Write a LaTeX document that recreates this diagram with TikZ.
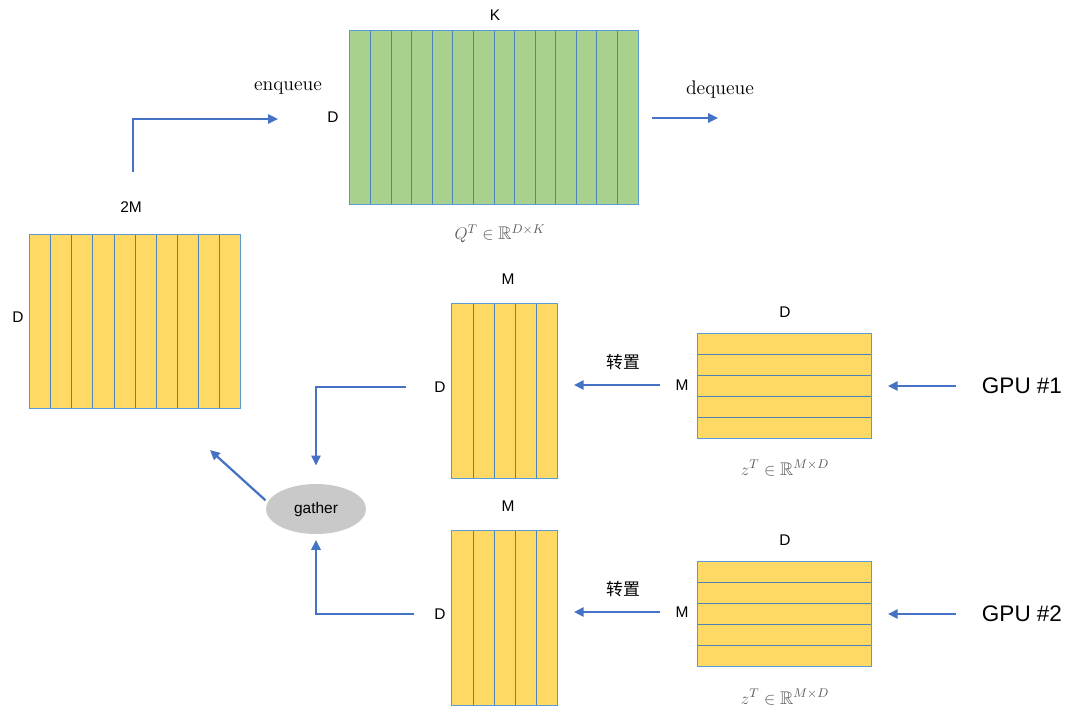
\documentclass[tikz,border=0pt]{standalone}
\usepackage{amssymb}
\usepackage{fontspec}
\setsansfont{Liberation Sans}
\newfontfamily\cjk{Noto Sans CJK SC}
\usetikzlibrary{arrows.meta,calc,positioning,shapes.geometric}
\definecolor{cellyellow}{HTML}{FFD966}
\definecolor{cellgreen}{HTML}{A9D18E}
\definecolor{cellline}{HTML}{5B9BD5}
\definecolor{arrowblue}{HTML}{4472C4}
\definecolor{mathgray}{HTML}{5A5A5A}
\tikzset{
    block/.style={
	rectangle,
	draw=cellline,
	line width=0.7pt,
	inner sep=0pt,
	outer sep=0pt
    },
    cell/.style={
	draw=cellline!85!black,
	line width=0.7pt
    },
    lbl/.style={
	font=\sffamily\fontsize{11}{13}\selectfont,
	inner sep=1pt
    },
    gpu/.style={
	font=\sffamily\fontsize{16}{18}\selectfont,
	inner sep=1pt
    },
    op/.style={
	font=\fontsize{14}{16}\selectfont,
	inner sep=1pt
    },
    dimlbl/.style={
	font=\fontsize{13}{15}\selectfont,
	text=mathgray,
	inner sep=1pt
    },
    flow/.style={
	draw=arrowblue,
	line width=1.6pt,
	-{Triangle[length=7pt,width=6.5pt]}
    },
}
\newcommand\splitcols[2]{%
    \foreach \i in {1,...,#2}{%
	\pgfmathsetmacro\f{\i/(#2+1)}
	\draw[cell] ($(#1.north west)!\f!(#1.north east)$)
	    -- ($(#1.south west)!\f!(#1.south east)$);}}
\newcommand\splitrows[2]{%
    \foreach \i in {1,...,#2}{%
	\pgfmathsetmacro\f{\i/(#2+1)}
	\draw[cell] ($(#1.north west)!\f!(#1.south west)$)
	    -- ($(#1.north east)!\f!(#1.south east)$);}}

\begin{document}
\begin{tikzpicture}[x=0.025cm,y=-0.025cm]
    \useasboundingbox (0,0) rectangle (1080,719);

    % queue
    \node[block, fill=cellgreen, minimum width=7.2cm, minimum height=4.325cm]
	(QUEUE) at (494,117.5) {};
    \splitcols{QUEUE}{13}
    \node[lbl] (QK) at (495,15) {K};
    \node[lbl] (QD) at (333,117) {D};
    \node[dimlbl] (QT) at (500,234) {$Q^T \in \mathbb{R}^{D\times K}$};
    \node[op] (ENQ) at (288,88) {enqueue};
    \node[op] (DEQ) at (720,90) {dequeue};

    % gathered keys
    \node[block, fill=cellyellow, minimum width=5.25cm, minimum height=4.325cm]
	(BIG) at (135,321.5) {};
    \splitcols{BIG}{9}
    \node[lbl] (BIGM) at (131,207) {2M};
    \node[lbl] (BIGD) at (18,317) {D};

    \node[ellipse, fill=black!21, minimum width=2.5cm, minimum height=1.25cm,
	font=\sffamily\fontsize{11}{13}\selectfont] (GATHER) at (316,509) {gather};

    % GPU #1
    \node[block, fill=cellyellow, minimum width=2.625cm, minimum height=4.35cm]
	(MA) at (504.5,391) {};
    \splitcols{MA}{4}
    \node[lbl] (MAM) at (508,279) {M};
    \node[lbl] (MAD) at (440,387) {D};
    \node[block, fill=cellyellow, minimum width=4.325cm, minimum height=2.625cm]
	(ZA) at (784.5,385.5) {};
    \splitrows{ZA}{4}
    \node[lbl] (ZAD) at (785,312) {D};
    \node[lbl] (ZAM) at (682,385) {M};
    \node[dimlbl] (ZAT) at (785,468) {$z^T \in \mathbb{R}^{M\times D}$};
    \node[font=\cjk\fontsize{12}{14}\selectfont] (TA) at (623,362) {转置};
    \node[gpu] (GPUA) at (1022,386) {GPU \#1};

    % GPU #2
    \node[block, fill=cellyellow, minimum width=2.625cm, minimum height=4.35cm]
	(MB) at (504.5,618) {};
    \splitcols{MB}{4}
    \node[lbl] (MBM) at (508,506) {M};
    \node[lbl] (MBD) at (440,614) {D};
    \node[block, fill=cellyellow, minimum width=4.325cm, minimum height=2.625cm]
	(ZB) at (784.5,613.5) {};
    \splitrows{ZB}{4}
    \node[lbl] (ZBD) at (785,540) {D};
    \node[lbl] (ZBM) at (682,612) {M};
    \node[dimlbl] (ZBT) at (785,697) {$z^T \in \mathbb{R}^{M\times D}$};
    \node[font=\cjk\fontsize{12}{14}\selectfont] (TB) at (623,589) {转置};
    \node[gpu] (GPUB) at (1022,614) {GPU \#2};

    \coordinate (ENQS) at (133,172);
    \coordinate (ENQE) at (278,119);
    \coordinate (DEQS) at (652,118);
    \coordinate (DEQE) at (718,118);
    \coordinate (BIGIN) at (210,450);

    \draw[flow] (ENQS) |- (ENQE);
    \draw[flow] (DEQS) -- (DEQE);

    \draw[flow, shorten <=17pt, shorten >=12pt] (GPUA.west) -- (ZA.east |- GPUA.west);
    \draw[flow, shorten <=10pt, shorten >=12pt] (ZAM.west) -- (MA.east |- ZAM.west);
    \draw[flow, shorten <=17pt, shorten >=12pt] (GPUB.west) -- (ZB.east |- GPUB.west);
    \draw[flow, shorten <=10pt, shorten >=12pt] (ZBM.west) -- (MB.east |- ZBM.west);

    \draw[flow, shorten <=19pt, shorten >=13pt] (MAD.west) -| (GATHER.north);
    \draw[flow, shorten <=13pt, shorten >=4pt] (MBD.west) -| (GATHER.south);
    \draw[flow, shorten <=2pt] (GATHER.172) -- (BIGIN);
\end{tikzpicture}
\end{document}
